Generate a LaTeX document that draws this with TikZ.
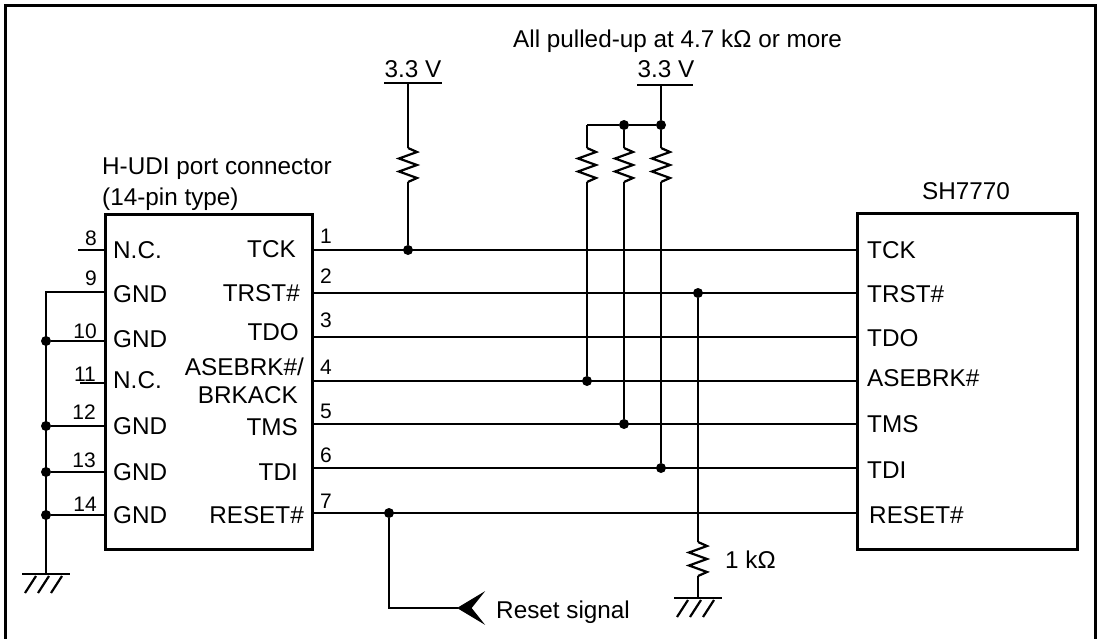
\documentclass[tikz,border=0pt]{standalone}
\usepackage{fontspec}
\setmainfont{Liberation Sans}
\usetikzlibrary{calc}
\def\wirewidth{2.2pt}
\def\labelsize{\fontsize{24.3}{28}\selectfont}
\def\pinnumsize{\fontsize{21}{24}\selectfont}
\tikzset{
    wire/.style={line width=\wirewidth},
    chipbox/.style={draw, line width=2.5pt, inner sep=0pt, anchor=north west},
    lbl/.style={inner sep=0pt, font=\labelsize},
    pinnum/.style={inner sep=0pt, font=\pinnumsize},
    junction/.style={circle, fill, inner sep=0pt, minimum size=10pt},
}
% zigzag resistor from (#1) down to (#2), 34 units below
\def\resistor(#1)(#2){
    \draw[wire, line join=miter] (#1) -- ++(9,4) -- ++(-18,6.5) -- ++(18,6.5) -- ++(-18,6.5) -- ++(18,6.5) -- (#2);
}
% ground symbol hanging under (#1)
\def\ground(#1){
    \draw[wire] ($(#1)+(-24,0)$) -- ($(#1)+(24,0)$);
    \foreach \dx in {-10,3,16}
        \draw[wire] ($(#1)+(\dx,2)$) -- ($(#1)+(\dx-11,19)$);
}

\begin{document}
\begin{tikzpicture}[x=1pt,y=-1pt]
        \clip (0,0) rectangle (1102,639);
        % frame, open at the bottom
        \draw[line width=3pt] (5,660) -- (5,6) -- (1095,6) -- (1095,660);
        % the connector and the chip
        \node[chipbox, minimum width=207, minimum height=335] (hudi) at (104,213) {};
        \node[chipbox, minimum width=220, minimum height=336] (soc) at (856,212) {};
        \node[lbl, anchor=base west] (hudititle) at (102,175) {H-UDI port connector};
        \node[lbl, anchor=base west] (huditype) at (102,205) {(14-pin type)};
        \node[lbl, anchor=base] (soctitle) at (966,200) {SH7770};
        % signal wires
        \foreach \i/\y in {1/250,2/293,3/337,4/381,5/424,6/468,7/513} {
            \coordinate (hudi\i) at (311,\y);
            \coordinate (soc\i) at (856,\y);
            \draw[wire] (hudi\i) -- (soc\i);
        }
        \foreach \i/\y in {1/243,2/283,3/327,4/374,5/418,6/462,7/508}
            \node[pinnum, anchor=base west] (num\i) at (320,\y) {\i};
        % connector pin names, right side
        \node[lbl, anchor=base east] (ltck) at (296,257) {TCK};
        \node[lbl, anchor=base east] (ltrst) at (300,301) {TRST\#};
        \node[lbl, anchor=base east] (ltdo) at (299,340) {TDO};
        \node[lbl, anchor=base east] (lase) at (304,375) {ASEBRK\#/};
        \node[lbl, anchor=base east] (lbrk) at (298,403) {BRKACK};
        \node[lbl, anchor=base east] (ltms) at (298,435) {TMS};
        \node[lbl, anchor=base east] (ltdi) at (298,480) {TDI};
        \node[lbl, anchor=base east] (lrst) at (304,523) {RESET\#};
        % chip pin names
        \node[lbl, anchor=base west] (stck) at (867,258) {TCK};
        \node[lbl, anchor=base west] (strst) at (867,302) {TRST\#};
        \node[lbl, anchor=base west] (stdo) at (867,346) {TDO};
        \node[lbl, anchor=base west] (sase) at (867,386) {ASEBRK\#};
        \node[lbl, anchor=base west] (stms) at (867,432) {TMS};
        \node[lbl, anchor=base west] (stdi) at (867,478) {TDI};
        \node[lbl, anchor=base west] (srst) at (869,523) {RESET\#};
        % connector pins, left side
        \foreach \i/\y in {8/250,9/292,10/341,11/383,12/426,13/472,14/515}
            \coordinate (hudi\i) at (104,\y);
        \foreach \i/\x/\y in {8/97/245,9/97/285,10/97/338,11/96/381,12/96/419,13/96/467,14/97/511}
            \node[pinnum, anchor=base east] (num\i) at (\x,\y) {\i};
        \foreach \txt/\y [count=\i from 8] in {N.C./258,GND/302,GND/347,N.C./388,GND/434,GND/480,GND/523}
            \node[lbl, anchor=base west] (lname\i) at (113,\y) {\txt};
        \coordinate (nc8) at (78,250);
        \coordinate (nc11) at (80,383);
        \draw[wire] (nc8) -- (hudi8);
        \draw[wire] (nc11) -- (hudi11);
        % ground bus
        \coordinate (gcorner) at (46,292);
        \coordinate (gleft) at (46,574);
        \draw[wire] (hudi9) -- (gcorner) -- (gleft);
        \foreach \i in {10,12,13,14} {
            \node[junction] (gj\i) at (gcorner |- hudi\i) {};
            \draw[wire] (gj\i) -- (hudi\i);
        }
        \ground(gleft)
        % pull-up on TCK
        \node[lbl, anchor=base] (vcca) at (413,78) {3.3 V};
        \coordinate (vccaL) at (384,83);
        \coordinate (vccaR) at (442,83);
        \draw[wire] (vccaL) -- (vccaR);
        \coordinate (supa) at (408,83);
        \coordinate (raTop) at (408,148);
        \coordinate (raBot) at (408,182);
        \node[junction] (jtck) at (408,250) {};
        \draw[wire] (supa) -- (raTop);
        \resistor(raTop)(raBot)
        \draw[wire] (raBot) -- (jtck);
        % pull-ups on ASEBRK#, TMS, TDI
        \node[lbl, anchor=base west] (pullnote) at (513,48) {All pulled-up at 4.7 kΩ or more};
        \node[lbl, anchor=base] (vccb) at (666,78) {3.3 V};
        \coordinate (vccbL) at (637,85);
        \coordinate (vccbR) at (693,85);
        \draw[wire] (vccbL) -- (vccbR);
        \coordinate (supb) at (661,85);
        \node[junction] (jpr) at (661,125) {};
        \node[junction] (jpm) at (624,125) {};
        \coordinate (cpl) at (587,125);
        \draw[wire] (supb) -- (jpr) -- (jpm) -- (cpl);
        \node[junction] (jase) at (587,381) {};
        \node[junction] (jtms) at (624,424) {};
        \node[junction] (jtdi) at (661,468) {};
        \foreach \x/\top/\sig in {587/cpl/jase,624/jpm/jtms,661/jpr/jtdi} {
            \coordinate (rTop\x) at (\x,148);
            \coordinate (rBot\x) at (\x,182);
            \draw[wire] (\top) -- (rTop\x);
            \resistor(rTop\x)(rBot\x)
            \draw[wire] (rBot\x) -- (\sig);
        }
        % pull-down on TRST#
        \node[junction] (jtrst) at (698,293) {};
        \coordinate (rdTop) at (698,542);
        \coordinate (rdBot) at (698,576);
        \coordinate (gright) at (698,598);
        \draw[wire] (jtrst) -- (rdTop);
        \resistor(rdTop)(rdBot)
        \draw[wire] (rdBot) -- (gright);
        \ground(gright)
        \node[lbl, anchor=base west] (rdval) at (725,568) {1 kΩ};
        % reset input
        \node[junction] (jrst) at (389,513) {};
        \coordinate (crst) at (389,608);
        \coordinate (rsttip) at (458,608);
        \draw[wire] (jrst) -- (crst) -- (rsttip);
        \filldraw[line width=1pt, line join=miter] (rsttip) -- ++(25,-15) -- ++(-12,15) -- ++(12,15) -- cycle;
        \node[lbl, anchor=base west] (rstnote) at (496,618) {Reset signal};
\end{tikzpicture}
\end{document}
